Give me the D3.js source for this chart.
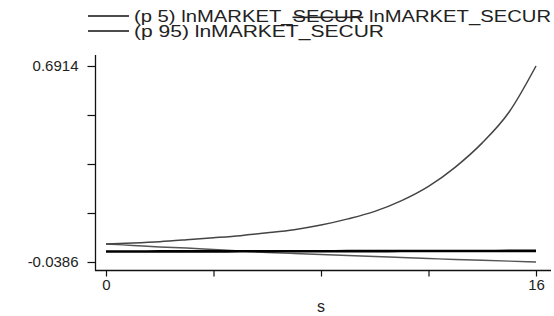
<!DOCTYPE html>
<html>
<head>
<meta charset="utf-8">
<script src="https://cdn.jsdelivr.net/npm/d3@7"></script>
<style>
  body { margin: 0; background: #fff; }
  svg { display: block; font-family: "Liberation Sans", Arial, sans-serif; }
</style>
</head>
<body>
<div id="chart"></div>
<script>
(function(d3) {
  'use strict';

  // step s
  var steps = [0, 1, 2, 3, 4, 5, 6, 7, 8, 9, 10, 11, 12, 13, 14, 15, 16];
  // point estimate (the thick flat line)
  var irf = [0.0005, 0.0006, 0.0008, 0.0009, 0.0010, 0.0012, 0.0013, 0.0015, 0.0016,
             0.0018, 0.0019, 0.0021, 0.0022, 0.0024, 0.0025, 0.0027, 0.0028];
  // (p 5) lower band
  var p5 = [0.0284, 0.0230, 0.0175, 0.0135, 0.0080, 0.0025, -0.0030, -0.0070, -0.0107,
            -0.0144, -0.0181, -0.0218, -0.0256, -0.0293, -0.0323, -0.0352, -0.0386];
  // (p 95) upper band
  var p95 = [0.0287, 0.0324, 0.0372, 0.0440, 0.0515, 0.0596, 0.0700, 0.0819, 0.0990,
             0.1220, 0.1500, 0.1900, 0.2430, 0.3150, 0.4050, 0.5200, 0.6914];

  var yTicks = [-0.0386, 0.6914];
  var xTicks = [0, 4, 8, 12, 16];
  var xLabels = [0, 16];
  var legendLabels = ['(p 5) lnMARKET_', 'SECUR', ' lnMARKET_SECUR', '(p 95) lnMARKET_SECUR'];

  var width = 554;
  var height = 316;

  var svg = d3.select('#chart')
    .append('svg')
      .attr('width', width)
      .attr('height', height);

  var x = d3.scaleLinear().domain([0, 16]).range([106, 536]);
  var y = d3.scaleLinear().domain([-0.0386, 0.6914]).range([262, 66]);

  // 5 evenly spaced ticks on y, only min and max labelled
  var yAll = d3.range(5).map(function(i) { return yTicks[0] + i * (yTicks[1] - yTicks[0]) / 4; });

  // axis lines span the whole plot region
  svg.append('line')
    .attr('x1', 95.5).attr('x2', 95.5).attr('y1', 55).attr('y2', 270.5)
    .attr('stroke', '#111').attr('stroke-width', 1.3);
  svg.append('line')
    .attr('x1', 95).attr('x2', 551).attr('y1', 270.5).attr('y2', 270.5)
    .attr('stroke', '#111').attr('stroke-width', 1.3);

  var yAxis = d3.axisLeft(y)
    .tickValues(yAll)
    .tickSize(8)
    .tickFormat(function(d) {
      return yTicks.some(function(t) { return Math.abs(t - d) < 1e-9; }) ? d3.format('.4f')(d) : '';
    });
  var gy = svg.append('g').attr('transform', 'translate(95.5,0)').call(yAxis);
  gy.select('.domain').remove();
  gy.selectAll('line').attr('stroke', '#111').attr('stroke-width', 1.2);
  gy.selectAll('text')
    .attr('x', -17)
    .attr('fill', '#222')
    .style('font-size', '15px')
    .text(function(d) {
      var t = yTicks.filter(function(v) { return Math.abs(v - d) < 1e-9; });
      return t.length ? String(t[0]) : '';
    });

  var xAxis = d3.axisBottom(x)
    .tickValues(xTicks)
    .tickSize(6)
    .tickFormat(function(d) { return xLabels.indexOf(d) >= 0 ? d : ''; });
  var gx = svg.append('g').attr('transform', 'translate(0,270.5)').call(xAxis);
  gx.select('.domain').remove();
  gx.selectAll('line').attr('stroke', '#111').attr('stroke-width', 1.2);
  gx.selectAll('text')
    .attr('y', 9)
    .attr('fill', '#222')
    .style('font-size', '15px');

  svg.append('text')
    .attr('x', x(8)).attr('y', 312)
    .attr('text-anchor', 'middle')
    .attr('fill', '#222')
    .style('font-size', '16px')
    .text('s');

  var line = d3.line()
    .x(function(d, i) { return x(steps[i]); })
    .y(function(d) { return y(d); })
    .curve(d3.curveMonotoneX);

  svg.append('path').datum(p5)
    .attr('d', line).attr('fill', 'none')
    .attr('stroke', '#555').attr('stroke-width', 1.4);
  svg.append('path').datum(p95)
    .attr('d', line).attr('fill', 'none')
    .attr('stroke', '#444').attr('stroke-width', 1.5);
  svg.append('path').datum(irf)
    .attr('d', line).attr('fill', 'none')
    .attr('stroke', '#000').attr('stroke-width', 2.6);

  // legend, two rows stacked tight
  var rows = [{ y: 22, lineY: 16 }, { y: 37, lineY: 31 }];
  rows.forEach(function(r) {
    svg.append('line')
      .attr('x1', 88).attr('x2', 129).attr('y1', r.lineY).attr('y2', r.lineY)
      .attr('stroke', '#111').attr('stroke-width', 1.4);
  });

  var t1 = svg.append('text')
    .attr('x', 134).attr('y', rows[0].y)
    .attr('fill', '#222')
    .style('font-size', '16px')
    .attr('textLength', 417)
    .attr('lengthAdjust', 'spacingAndGlyphs');
  t1.append('tspan').text(legendLabels[0]);
  t1.append('tspan').style('text-decoration', 'line-through').text(legendLabels[1]);
  t1.append('tspan').text(legendLabels[2]);

  svg.append('text')
    .attr('x', 134).attr('y', rows[1].y)
    .attr('fill', '#222')
    .style('font-size', '16px')
    .attr('textLength', 250)
    .attr('lengthAdjust', 'spacingAndGlyphs')
    .text(legendLabels[3]);
})(window.d3);
</script>
</body>
</html>
